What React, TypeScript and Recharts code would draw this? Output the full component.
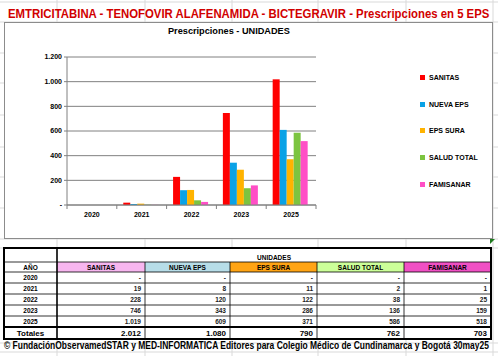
import { useLayoutEffect, useRef } from 'react'
import { BarChart, Bar, XAxis, YAxis, CartesianGrid, Legend } from 'recharts'

const YEARS = ['2020', '2021', '2022', '2023', '2025']
const SANITAS = [0, 19, 228, 746, 1019]
const NUEVA_EPS = [0, 8, 120, 343, 609]
const EPS_SURA = [0, 11, 122, 286, 371]
const SALUD_TOTAL = [0, 2, 38, 136, 586]
const FAMISANAR = [0, 1, 25, 159, 518]
const Y_TICKS = [0, 200, 400, 600, 800, 1000, 1200]

const SERIES = [
  { key: 'sanitas', name: 'SANITAS', values: SANITAS, color: '#ff0000', head: '#f7b6ef' },
  { key: 'nueva', name: 'NUEVA EPS', values: NUEVA_EPS, color: '#0aa2e6', head: '#b7dde8' },
  { key: 'sura', name: 'EPS SURA', values: EPS_SURA, color: '#ffb300', head: '#ffa414' },
  { key: 'salud', name: 'SALUD TOTAL', values: SALUD_TOTAL, color: '#7cc440', head: '#ccff99' },
  { key: 'famisanar', name: 'FAMISANAR', values: FAMISANAR, color: '#ff4fc6', head: '#f050c4' },
]

const data = YEARS.map((year, i) => {
  const row: any = { year }
  SERIES.forEach(s => { row[s.key] = s.values[i] })
  return row
})

if (typeof document !== 'undefined') document.body.style.margin = '0'

const FONT = '"Liberation Sans", Arial, sans-serif'
const fmt = (n: number) => (n === 0 ? '-' : String(n).replace(/\B(?=(\d{3})+(?!\d))/g, '.'))

// table geometry (excel cells)
const COLS = [4, 57, 145, 230, 317, 404, 491]
const ROWS = [248, 262, 272, 283, 294, 305, 316, 327, 339]

// squeezes a text horizontally to a given width (excel prints these condensed)
function FitText({ x, y, width, children, ...rest }: any) {
  const ref = useRef<SVGTextElement>(null)
  useLayoutEffect(() => {
    const el = ref.current
    if (!el) return
    const k = width / el.getComputedTextLength()
    el.setAttribute('transform', `matrix(${k},0,0,1,${x - k * x},0)`)
  }, [x, width])
  return <text ref={ref} x={x} y={y} {...rest}>{children}</text>
}

const XTick = ({ x, y, payload, index, width, visibleTicksCount }: any) => {
  const band = width / visibleTicksCount
  return (
    <g>
      <line x1={x - band / 2} x2={x - band / 2} y1={y} y2={y + 4} stroke="#808080" />
      {index === visibleTicksCount - 1 && (
        <line x1={x + band / 2} x2={x + band / 2} y1={y} y2={y + 4} stroke="#808080" />
      )}
      <text x={x} y={y + 12} textAnchor="middle" fontSize={7} fontWeight="bold" fontFamily={FONT} fill="#000">
        {payload.value}
      </text>
    </g>
  )
}

// legend keeps the series order (recharts would sort it by name)
const LegendBox = () => (
  <div>
    {SERIES.map(s => (
      <div key={s.key} style={{ display: 'flex', alignItems: 'center', height: 26.8, fontFamily: FONT, fontSize: 7, fontWeight: 'bold', color: '#000' }}>
        <span style={{ width: 5, height: 5, background: s.color, marginRight: 4 }} />
        {s.name}
      </div>
    ))}
  </div>
)

export default function App() {
  return (
    <div style={{ position: 'relative', width: 498, height: 356, background: '#fff', overflow: 'hidden' }}>
      {/* excel sheet grid */}
      <svg width={498} height={356} style={{ position: 'absolute', left: 0, top: 0 }}>
        {[57, 145, 232, 318, 406, 493].map(x => (
          <line key={x} x1={x} x2={x} y1={0} y2={356} stroke="#d9d9d9" />
        ))}
        {[2, 22, 53, 83, 115, 147, 177, 208, 239, 248, 343, 352].map(y => (
          <line key={y} x1={0} x2={498} y1={y} y2={y} stroke="#d9d9d9" />
        ))}
        <rect x={4.5} y={22.5} width={488} height={216} fill="#fff" stroke="#8c8c8c" />
        <polygon points="490,239 495,239 490,244" fill="#1e7a1e" />
      </svg>

      <div style={{ position: 'absolute', left: 0, top: 0 }}>
        <BarChart width={498} height={356} data={data} barGap={0} barCategoryGap="13%"
          margin={{ top: 57, right: 107, left: 7, bottom: 121 }}>
          <CartesianGrid vertical={false} stroke="#808080" />
          <XAxis dataKey="year" axisLine={{ stroke: '#808080' }} tickLine={false} tickSize={0} tickMargin={0}
            interval={0} tick={<XTick />} />
          <YAxis width={60} domain={[0, 1200]} ticks={Y_TICKS} tickFormatter={fmt} interval={0}
            axisLine={{ stroke: '#808080' }} tickLine={{ stroke: '#808080' }} tickSize={3} tickMargin={2}
            tick={{ fontSize: 7, fontWeight: 'bold', fill: '#000', fontFamily: FONT }} />
          <Legend layout="vertical" align="right" verticalAlign="top" content={<LegendBox />}
            wrapperStyle={{ position: 'absolute', left: 420, top: 64, width: 75 }} />
          {SERIES.map(s => (
            <Bar key={s.key} dataKey={s.key} name={s.name} fill={s.color} isAnimationActive={false} />
          ))}
        </BarChart>
      </div>

      {/* titles, table and footer */}
      <svg width={498} height={356} style={{ position: 'absolute', left: 0, top: 0, pointerEvents: 'none' }}
        fontFamily={FONT}>
        <FitText x={8} y={18} width={482} fontSize={12.5} fontWeight="bold" fill="#d10000">
          EMTRICITABINA - TENOFOVIR ALAFENAMIDA - BICTEGRAVIR - Prescripciones en 5 EPS
        </FitText>
        <FitText x={168} y={34} width={122} fontSize={9.5} fontWeight="bold" fill="#000">
          Prescripciones - UNIDADES
        </FitText>

        {/* table */}
        <rect x={COLS[0]} y={ROWS[0]} width={COLS[6] - COLS[0]} height={ROWS[8] - ROWS[0]} fill="#fff" />
        {SERIES.map((s, i) => (
          <rect key={s.key} x={COLS[i + 1]} y={ROWS[1]} width={COLS[i + 2] - COLS[i + 1]} height={ROWS[2] - ROWS[1]} fill={s.head} />
        ))}
        {ROWS.slice(1, 8).map((y, i) => (
          <line key={y} x1={COLS[0]} x2={COLS[6]} y1={y} y2={y} stroke="#000" strokeWidth={i === 6 ? 2 : 0.8} />
        ))}
        {COLS.slice(2, 6).map(x => (
          <line key={x} x1={x} x2={x} y1={ROWS[1]} y2={ROWS[8]} stroke="#000" strokeWidth={0.8} />
        ))}
        <line x1={COLS[1]} x2={COLS[1]} y1={ROWS[0]} y2={ROWS[8]} stroke="#000" strokeWidth={1.6} />
        <rect x={COLS[0]} y={ROWS[0]} width={COLS[6] - COLS[0]} height={ROWS[8] - ROWS[0]} fill="none" stroke="#000" strokeWidth={2} />

        <text x={(COLS[1] + COLS[6]) / 2} y={ROWS[1] - 2} textAnchor="middle" fontSize={6.5} fontWeight="bold">UNIDADES</text>
        <text x={(COLS[0] + COLS[1]) / 2} y={ROWS[2] - 2} textAnchor="middle" fontSize={6.5} fontWeight="bold">AÑO</text>
        {SERIES.map((s, i) => (
          <text key={s.key} x={(COLS[i + 1] + COLS[i + 2]) / 2} y={ROWS[2] - 2} textAnchor="middle" fontSize={6.5} fontWeight="bold">
            {s.name}
          </text>
        ))}
        {YEARS.map((year, r) => (
          <g key={year}>
            <text x={(COLS[0] + COLS[1]) / 2} y={ROWS[r + 3] - 3} textAnchor="middle" fontSize={6.5} fontWeight="bold">{year}</text>
            {SERIES.map((s, i) => (
              <text key={s.key} x={COLS[i + 2] - 4} y={ROWS[r + 3] - 3} textAnchor="end" fontSize={6.5} fontWeight="bold" fill="#222">
                {fmt(s.values[r])}
              </text>
            ))}
          </g>
        ))}
        <text x={(COLS[0] + COLS[1]) / 2} y={ROWS[8] - 3} textAnchor="middle" fontSize={8} fontWeight="bold">Totales</text>
        {SERIES.map((s, i) => (
          <text key={s.key} x={COLS[i + 2] - 4} y={ROWS[8] - 3} textAnchor="end" fontSize={8} fontWeight="bold">
            {fmt(s.values.reduce((a, b) => a + b, 0))}
          </text>
        ))}

        <FitText x={4} y={349} width={486} fontSize={10.5} fontWeight="bold" fill="#000">
          © FundaciónObservamedSTAR y MED-INFORMATICA Editores para Colegio Médico de Cundinamarca y Bogotá 30may25
        </FitText>
      </svg>
    </div>
  )
}
